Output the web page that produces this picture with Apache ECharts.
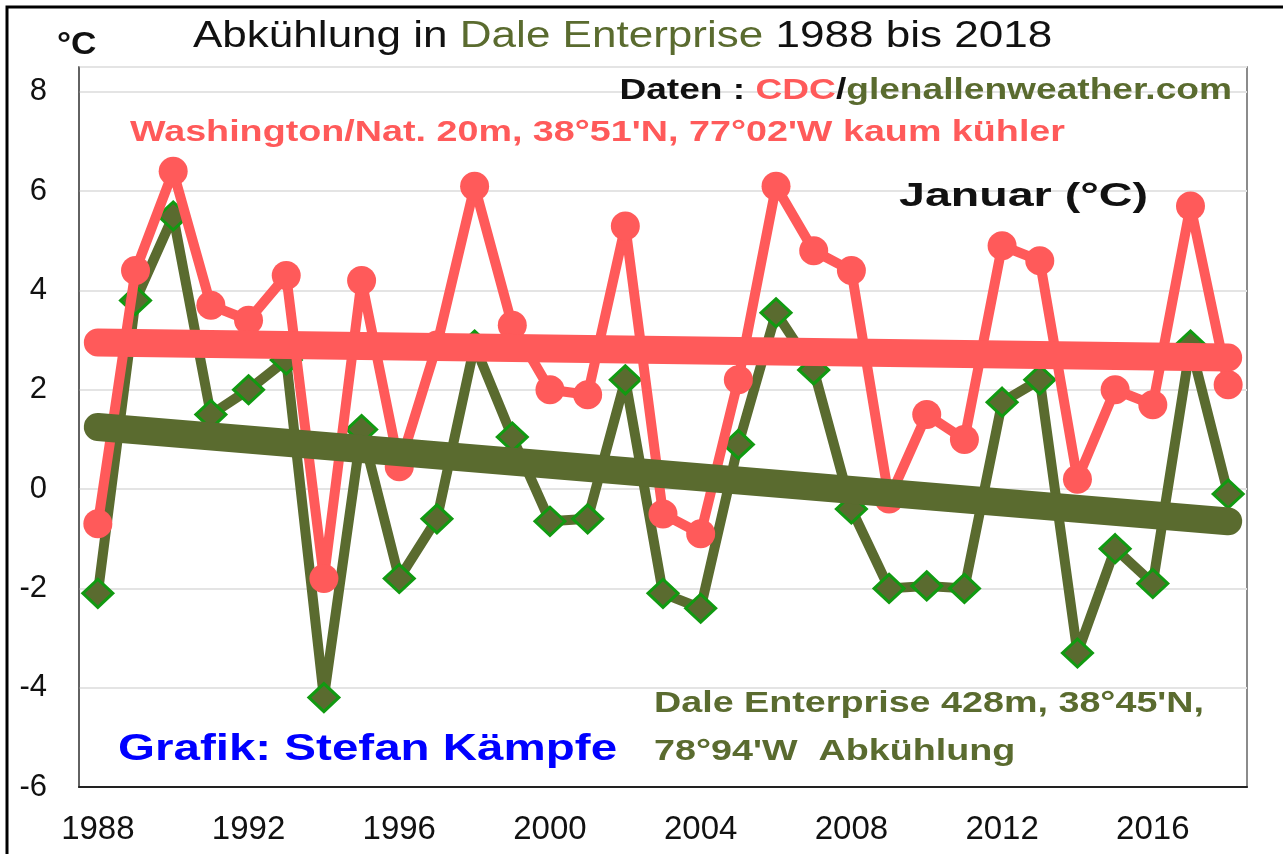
<!DOCTYPE html>
<html>
<head>
<meta charset="utf-8">
<script src="https://cdn.jsdelivr.net/npm/echarts@6/dist/echarts.min.js"></script>
<style>
  html, body { margin: 0; padding: 0; background: #fff; }
  #chart { width: 1283px; height: 854px; }
</style>
</head>
<body>
<div id="chart"></div>
<script>
// Januar-Mittel (°C), 1988 bis 2018
const years = [];
for (let y = 1988; y <= 2018; y++) years.push(String(y));

const washington = [-0.7, 4.4, 6.4, 3.7, 3.4, 4.3, -1.8, 4.2, 0.45, 2.9,
  6.1, 3.3, 2.0, 1.9, 5.3, -0.5, -0.9, 2.2, 6.1, 4.8,
  4.4, -0.2, 1.5, 1.0, 4.9, 4.6, 0.2, 2.0, 1.7, 5.7, 2.1];

const dale = [-2.1, 3.8, 5.5, 1.5, 2.0, 2.6, -4.2, 1.2, -1.8, -0.6,
  2.9, 1.05, -0.65, -0.6, 2.2, -2.1, -2.4, 0.9, 3.55, 2.4,
  -0.4, -2.0, -1.95, -2.0, 1.75, 2.2, -3.3, -1.2, -1.9, 2.9, -0.1];

// Trendlinien: Anfangs- und Endwert
const washingtonTrend = [2.95, 2.65];
const daleTrend = [1.25, -0.65];

const red = "#ff5a5a";
const olive = "#5a6b2f";
const font = "Liberation Sans";

const chart = echarts.init(document.getElementById("chart"));

function label(x, y, text, size, color, sx, extra) {
  return Object.assign({
    type: "text", x, y, z: 50, scaleX: sx,
    style: {
      text, fontSize: size, fontWeight: "bold", fontFamily: font,
      fill: color, verticalAlign: "middle",
    },
  }, extra || {});
}

chart.setOption({
  backgroundColor: "#fff",
  animation: false,
  grid: {
    left: 79, right: 36, top: 67, bottom: 67,
    show: true, borderColor: "#666", borderWidth: 1.5,
  },
  xAxis: {
    type: "category",
    data: years,
    boundaryGap: true,
    axisLine: { onZero: false, lineStyle: { color: "#222", width: 2 } },
    axisTick: { interval: 0, length: 11, lineStyle: { color: "#222", width: 1.5 } },
    axisLabel: { interval: 3, fontSize: 33, color: "#111", fontFamily: font, margin: 26 },
    splitLine: { show: false },
  },
  yAxis: {
    type: "value",
    min: -6, max: 8.5, interval: 2,
    axisLine: { show: true, lineStyle: { color: "#555", width: 1.5 } },
    axisTick: { show: false },
    axisLabel: {
      fontSize: 31, color: "#111", fontFamily: font, margin: 32,
      formatter: (v) => (v % 2 === 0 ? String(v) : ""),
    },
    splitLine: { lineStyle: { color: "#e4e4e4", width: 2 } },
  },
  series: [
    {
      name: "Dale Enterprise",
      type: "line",
      z: 2,
      data: dale,
      showAllSymbol: true,
      symbol: "diamond",
      symbolSize: [30, 28],
      lineStyle: { color: olive, width: 10 },
      itemStyle: { color: olive, borderColor: "#119a11", borderWidth: 3 },
    },
    {
      name: "Washington",
      type: "line",
      z: 3,
      data: washington,
      showAllSymbol: true,
      symbol: "circle",
      symbolSize: 29,
      lineStyle: { color: red, width: 10 },
      itemStyle: { color: red },
    },
    {
      name: "Trend Dale",
      type: "line",
      z: 4,
      data: [[years[0], daleTrend[0]], [years[years.length - 1], daleTrend[1]]],
      symbol: "none",
      lineStyle: { color: olive, width: 28, cap: "round" },
    },
    {
      name: "Trend Washington",
      type: "line",
      z: 5,
      data: [[years[0], washingtonTrend[0]], [years[years.length - 1], washingtonTrend[1]]],
      symbol: "none",
      lineStyle: { color: red, width: 28, cap: "round" },
    },
  ],
  graphic: [
    {
      type: "rect", silent: true, z: 100,
      shape: { x: 7, y: 7, width: 1300, height: 900 },
      style: { fill: "none", stroke: "#000", lineWidth: 3 },
    },
    {
      type: "text", x: 193, y: 37, z: 50, scaleX: 1.19,
      style: {
        text: "{a|Abkühlung in }{b|Dale Enterprise}{a| 1988 bis 2018}",
        verticalAlign: "middle",
        rich: {
          a: { fontSize: 37, fontFamily: font, fill: "#111" },
          b: { fontSize: 37, fontFamily: font, fill: olive },
        },
      },
    },
    label(57, 45, "°C", 32, "#111", 1.1),
    {
      type: "text", x: 1232, y: 91, z: 50, scaleX: 1.28,
      style: {
        text: "{k|Daten : }{r|CDC}{k|/}{g|glenallenweather.com}",
        align: "right", verticalAlign: "middle",
        rich: {
          k: { fontSize: 29, fontWeight: "bold", fontFamily: font, fill: "#111" },
          r: { fontSize: 29, fontWeight: "bold", fontFamily: font, fill: red },
          g: { fontSize: 29, fontWeight: "bold", fontFamily: font, fill: olive },
        },
      },
    },
    label(130, 133, "Washington/Nat. 20m, 38°51'N, 77°02'W kaum kühler", 29, red, 1.3),
    label(899, 197, "Januar (°C)", 34, "#111", 1.37),
    label(654, 704, "Dale Enterprise 428m, 38°45'N,", 29, olive, 1.3),
    label(654, 752, "78°94'W  Abkühlung", 29, olive, 1.3),
    label(118, 750, "Grafik: Stefan Kämpfe", 36, "#0000ff", 1.32),
  ],
});
</script>
</body>
</html>
